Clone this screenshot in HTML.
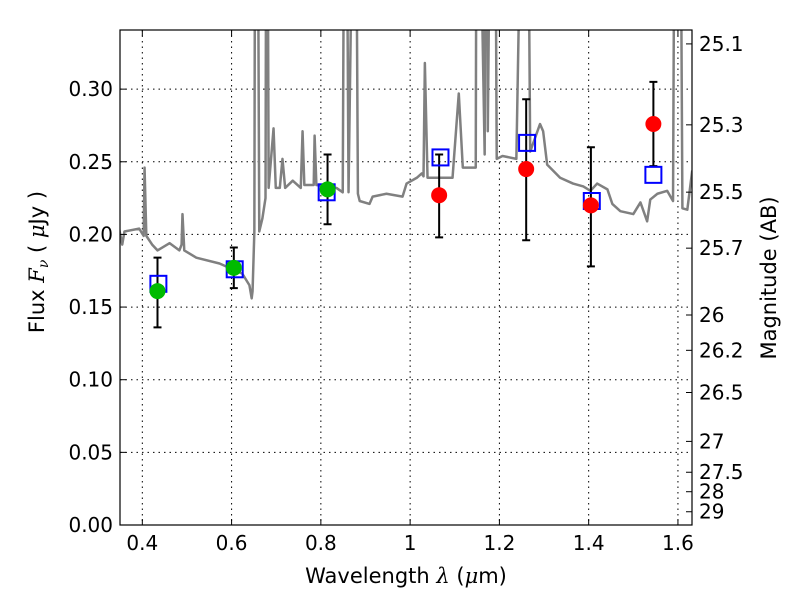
<!DOCTYPE html>
<html><head><meta charset="utf-8"><style>
body{margin:0;background:#fff;}
svg text{font-family:"DejaVu Sans","Liberation Sans",sans-serif;}
</style></head><body>
<svg id="chart" width="800" height="600" xmlns="http://www.w3.org/2000/svg">
<defs><clipPath id="pc"><rect x="120" y="30" width="572" height="495"/></clipPath></defs>
<rect x="0" y="0" width="800" height="600" fill="#fff"/>
<g id="grid"></g>
<g id="spec" clip-path="url(#pc)"></g>
<g id="marks"></g>
<rect x="120" y="30" width="572" height="495" fill="none" stroke="#000" stroke-width="1.2"/>
<g id="axes"></g>
<text x="406" y="583" font-size="21" text-anchor="middle">Wavelength  <tspan font-style="italic" font-family="DejaVu Serif,serif">λ</tspan> (<tspan font-style="italic" font-family="DejaVu Serif,serif">μ</tspan>m)</text>
<text transform="translate(44,262) rotate(-90)" font-size="21" text-anchor="middle">Flux  <tspan font-style="italic" font-family="DejaVu Serif,serif">F<tspan font-size="14" dy="4">ν</tspan></tspan><tspan dy="-4">  ( </tspan><tspan font-style="italic" font-family="DejaVu Serif,serif">μ</tspan>Jy )</text>
<text transform="translate(776,278) rotate(-90)" font-size="21" text-anchor="middle">Magnitude (AB)</text>
</svg>
<script>
const specLam=[0.348,0.355,0.36,0.393,0.403,0.405,0.409,0.422,0.434,0.461,0.483,0.488,0.490,0.494,0.521,0.573,0.624,0.640,0.645,0.647,0.651,0.653,0.658,0.662,0.669,0.676,0.678,0.680,0.683,0.694,0.699,0.708,0.714,0.720,0.737,0.755,0.759,0.763,0.784,0.786,0.790,0.835,0.849,0.853,0.857,0.862,0.874,0.878,0.883,0.887,0.909,0.916,0.947,0.983,0.992,1.015,1.026,1.030,1.033,1.039,1.095,1.109,1.118,1.147,1.149,1.153,1.167,1.169,1.171,1.174,1.181,1.190,1.194,1.207,1.238,1.252,1.263,1.269,1.291,1.298,1.307,1.336,1.365,1.388,1.404,1.419,1.442,1.453,1.471,1.50,1.516,1.531,1.538,1.554,1.576,1.589,1.593,1.605,1.610,1.621,1.632];
const specFlux=[0.204,0.193,0.202,0.204,0.199,0.246,0.199,0.193,0.189,0.194,0.189,0.193,0.214,0.189,0.184,0.180,0.173,0.165,0.156,0.161,0.202,0.5,0.5,0.202,0.211,0.225,0.5,0.5,0.232,0.273,0.232,0.232,0.252,0.232,0.237,0.232,0.271,0.234,0.234,0.268,0.234,0.232,0.229,0.5,0.5,0.229,0.5,0.5,0.228,0.223,0.221,0.226,0.228,0.226,0.235,0.239,0.242,0.240,0.318,0.239,0.239,0.297,0.246,0.246,0.5,0.5,0.255,0.5,0.5,0.271,0.5,0.5,0.252,0.254,0.252,0.5,0.5,0.257,0.276,0.271,0.248,0.239,0.235,0.233,0.230,0.235,0.231,0.221,0.216,0.214,0.222,0.209,0.224,0.228,0.230,0.223,0.5,0.5,0.218,0.217,0.244];
const obsLam=[0.434,0.605,0.815,1.065,1.26,1.405,1.545];
const obsFlux=[0.161,0.177,0.231,0.227,0.245,0.220,0.276];
const errLo=[0.136,0.163,0.207,0.198,0.196,0.178,0.247];
const errHi=[0.184,0.191,0.255,0.255,0.293,0.260,0.305];
const obsColor=['#00bb00','#00bb00','#00bb00','#ff0000','#ff0000','#ff0000','#ff0000'];
const modLam=[0.436,0.607,0.813,1.068,1.262,1.407,1.545];
const modFlux=[0.166,0.176,0.229,0.253,0.263,0.223,0.241];
const xTicks=[0.4,0.6,0.8,1.0,1.2,1.4,1.6];
const xTickLabels=['0.4','0.6','0.8','1','1.2','1.4','1.6'];
const yTicks=[0,0.05,0.10,0.15,0.20,0.25,0.30];
const yTickLabels=['0.00','0.05','0.10','0.15','0.20','0.25','0.30'];
const magTicks=[25.1,25.3,25.5,25.7,26,26.2,26.5,27,27.5,28,29];
const magLabels=['25.1','25.3','25.5','25.7','26','26.2','26.5','27','27.5','28','29'];
const X0=120,X1=692,Y0=525,Y1=30,xmin=0.35,xmax=1.6315,ymin=0,ymax=0.3407;
const sx=v=>X0+(v-xmin)/(xmax-xmin)*(X1-X0);
const sy=v=>Y0-(v-ymin)/(ymax-ymin)*(Y0-Y1);
const NS='http://www.w3.org/2000/svg';
function mk(tag,attrs,parent){const e=document.createElementNS(NS,tag);for(const k in attrs)e.setAttribute(k,attrs[k]);parent.appendChild(e);return e;}
const grid=document.getElementById('grid'),axes=document.getElementById('axes');
xTicks.forEach((t,i)=>{const x=sx(t);
 const g=mk('line',{x1:x,x2:x,y1:Y1,y2:Y0,stroke:'#000','stroke-dasharray':'1.5,4','stroke-width':1},grid);
 
 const a=mk('line',{x1:x,x2:x,y1:Y0,y2:Y0-6,stroke:'#000'},axes);
 const b=mk('line',{x1:x,x2:x,y1:Y1,y2:Y1+6,stroke:'#000'},axes);
 const tx=mk('text',{x:x,y:Y0+25,'font-size':20,'text-anchor':'middle'},axes);tx.textContent=xTickLabels[i];
 });
yTicks.forEach((t,i)=>{const y=sy(t);
 if(t>0){const g=mk('line',{x1:X0,x2:X1,y1:y,y2:y,stroke:'#000','stroke-dasharray':'1.5,4','stroke-width':1},grid);
 }
 const a=mk('line',{x1:X0,x2:X0+6,y1:y,y2:y,stroke:'#000'},axes);
 const tx=mk('text',{x:X0-7,y:y+7,'font-size':20,'text-anchor':'end'},axes);tx.textContent=yTickLabels[i];
 });
magTicks.forEach((m,i)=>{const y=sy(Math.pow(10,(23.9-m)/2.5));
 const a=mk('line',{x1:X1,x2:X1-6,y1:y,y2:y,stroke:'#000'},axes);
 const tx=mk('text',{x:X1+7,y:y+7,'font-size':20},axes);tx.textContent=magLabels[i];
 });
const spec=document.getElementById('spec');
const p=mk('polyline',{points:specLam.map((l,i)=>sx(l)+','+sy(specFlux[i])).join(' '),fill:'none',stroke:'#808080','stroke-width':2.5,'stroke-linejoin':'round'},spec);

const marks=document.getElementById('marks');
obsLam.forEach((l,i)=>{const x=sx(l);
 const e=mk('path',{d:`M${x},${sy(errLo[i])}V${sy(errHi[i])}M${x-4},${sy(errLo[i])}h8M${x-4},${sy(errHi[i])}h8`,stroke:'#000','stroke-width':2,fill:'none'},marks);
 });
modLam.forEach((l,i)=>{const r=mk('rect',{x:sx(l)-8,y:sy(modFlux[i])-8,width:16,height:16,fill:'none',stroke:'#0000ff','stroke-width':2},marks);
 });
obsLam.forEach((l,i)=>{const c=mk('circle',{cx:sx(l),cy:sy(obsFlux[i]),r:8,fill:obsColor[i]},marks);
 });
</script>
</body></html>
